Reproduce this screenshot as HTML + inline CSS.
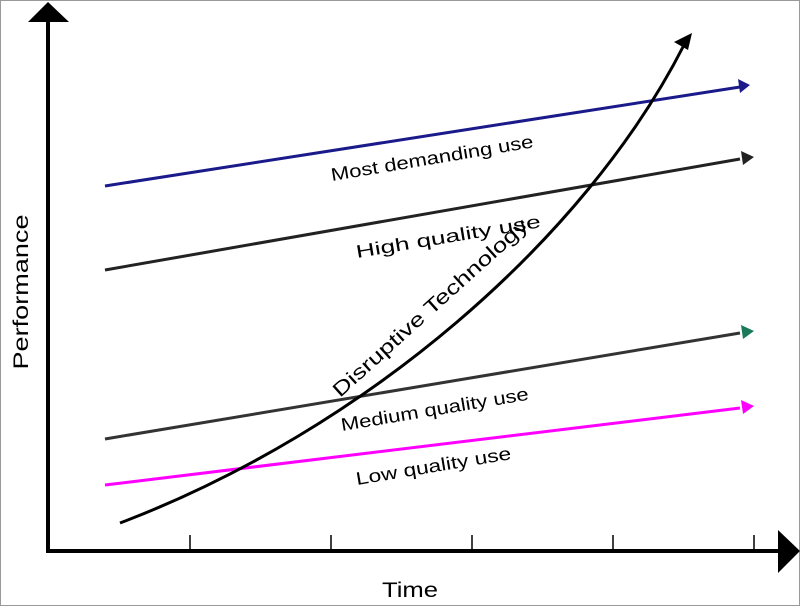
<!DOCTYPE html>
<html><head><style>
html,body{margin:0;padding:0;background:#fff}
svg{display:block}
text{font-family:"Liberation Sans",sans-serif;fill:#000}
</style></head><body>
<svg width="800" height="606" viewBox="0 0 800 606">
<rect x="0.5" y="0.5" width="799" height="605" fill="#fff" stroke="#999"/>
<g stroke="#000" stroke-width="4">
<line x1="48" y1="20" x2="48" y2="553"/>
<line x1="46" y1="551" x2="782" y2="551"/>
</g>
<polygon points="48,2 28,22 69,22" fill="#000"/>
<polygon points="800,551 778,530 778,573" fill="#000"/>
<g stroke="#000" stroke-width="1.5">
<line x1="190" y1="535" x2="190" y2="551"/>
<line x1="331" y1="535" x2="331" y2="551"/>
<line x1="472" y1="535" x2="472" y2="551"/>
<line x1="613" y1="535" x2="613" y2="551"/>
<line x1="754" y1="535" x2="754" y2="551"/>
</g>
<g stroke-width="3">
<line x1="105" y1="186" x2="740" y2="87" stroke="#1a1a8a"/>
<line x1="105" y1="270" x2="740" y2="159" stroke="#222"/>
<line x1="105" y1="439" x2="740" y2="333" stroke="#333"/>
<line x1="105" y1="485" x2="740" y2="408" stroke="#f0f"/>
</g>
<polygon points="750,85 738,79 740,93" fill="#1a1a8a"/>
<polygon points="754,157 741,151 743,165" fill="#222"/>
<polygon points="754,331 741,325 743,339" fill="#1a7a5a"/>
<polygon points="754,406 741,400 743,414" fill="#f0f"/>
<path d="M120,523 C365,430 585,240 684,45" fill="none" stroke="#000" stroke-width="3"/>
<polygon points="692,33 674,42 688,50" fill="#000"/>
<g font-size="18">
<text transform="translate(332,181) rotate(-9.5)" textLength="205" lengthAdjust="spacingAndGlyphs">Most demanding use</text>
<text transform="translate(357,258) rotate(-9.5)" textLength="187" lengthAdjust="spacingAndGlyphs">High quality use</text>
<text transform="translate(342,431) rotate(-9.5)" textLength="190" lengthAdjust="spacingAndGlyphs">Medium quality use</text>
<text transform="translate(357,485) rotate(-9.5)" textLength="157" lengthAdjust="spacingAndGlyphs">Low quality use</text>
</g>
<text font-size="20" transform="translate(340,398) rotate(-42)" textLength="255" lengthAdjust="spacingAndGlyphs">Disruptive Technology</text>
<text font-size="21" transform="translate(28,292) rotate(-90)" text-anchor="middle" textLength="155" lengthAdjust="spacingAndGlyphs">Performance</text>
<text font-size="21" x="410" y="597" text-anchor="middle" textLength="56" lengthAdjust="spacingAndGlyphs">Time</text>
</svg>
</body></html>
